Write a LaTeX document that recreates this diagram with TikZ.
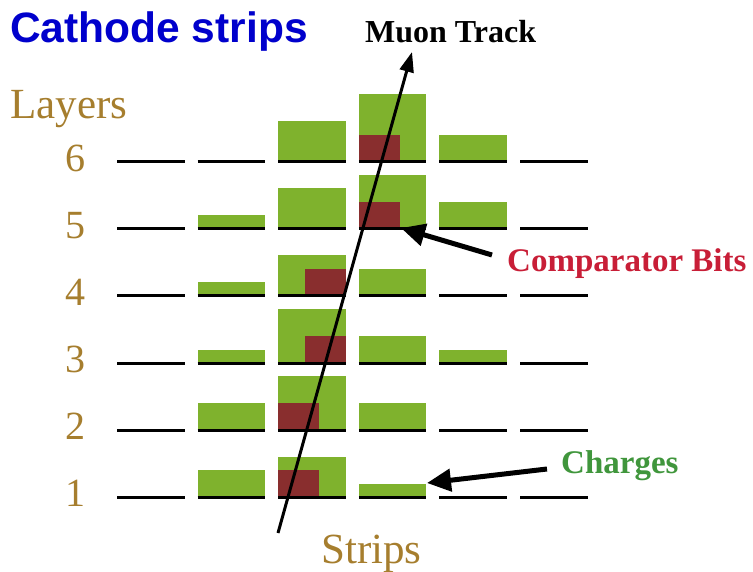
\documentclass[tikz,border=0pt]{standalone}
\usepackage{fontspec}
\setmainfont{Liberation Serif}
\setsansfont{Liberation Sans}
\usetikzlibrary{arrows.meta}

\definecolor{titleblue}{RGB}{0,0,204}
\definecolor{labelbrown}{RGB}{166,126,46}
\definecolor{chargegreen}{RGB}{127,178,45}
\definecolor{bitred}{RGB}{137,46,46}
\definecolor{cmpred}{RGB}{200,30,55}
\definecolor{chgtext}{RGB}{64,150,60}

\begin{document}
\begin{tikzpicture}[x=1pt,y=-1pt,
  charge/.style={fill=chargegreen},
  bit/.style={fill=bitred},
  stripline/.style={line width=3pt,black},
  brownlabel/.style={text=labelbrown,inner sep=0pt,font=\fontsize{43}{48}\selectfont},
  layernum/.style={text=labelbrown,inner sep=0pt,font=\fontsize{40}{46}\selectfont},
  callout/.style={inner sep=0pt,font=\bfseries\fontsize{33}{38}\selectfont},
  pointer/.style={line width=5pt,-{Triangle[length=24pt,width=22pt]}},
]
\useasboundingbox (0,0) rectangle (753,572);

% titles and axis labels
\node[anchor=base west,inner sep=0pt,text=titleblue,
      font=\sffamily\bfseries\fontsize{42.5}{48}\selectfont] (title) at (10,43) {Cathode strips};
\node[anchor=base west,inner sep=0pt,font=\bfseries\fontsize{32}{38}\selectfont] (muon) at (365,43) {Muon Track};
\node[brownlabel,anchor=base west] (layers) at (10,119) {Layers};
\node[brownlabel,anchor=base west] (strips) at (321,563) {Strips};

% collected charge on each strip (layer/column/height in units)
\foreach \ly/\col/\h in {6/3/3, 6/4/5, 6/5/2,
                         5/2/1, 5/3/3, 5/4/4, 5/5/2,
                         4/2/1, 4/3/3, 4/4/2,
                         3/2/1, 3/3/4, 3/4/2, 3/5/1,
                         2/2/2, 2/3/4, 2/4/2,
                         1/2/2, 1/3/3, 1/4/1}{
  \pgfmathsetmacro\xl{117+80.6*(\col-1)}
  \pgfmathsetmacro\yb{497-67*(\ly-1)}
  \fill[charge] (\xl,\yb) rectangle ++(67.5,-13.5*\h);
}

% comparator bits (layer/column/offset within strip)
\foreach \ly/\col/\off in {6/4/0, 5/4/0, 4/3/27, 3/3/27, 2/3/0, 1/3/0}{
  \pgfmathsetmacro\xl{117+80.6*(\col-1)+\off}
  \pgfmathsetmacro\yb{497-67*(\ly-1)}
  \fill[bit] (\xl,\yb) rectangle ++(41,-27);
}

% strip baselines and layer numbers
\foreach \ly in {1,...,6}{
  \pgfmathsetmacro\yb{497-67*(\ly-1)}
  \node[layernum,anchor=base] (n\ly) at (75,\yb+9.5) {\ly};
  \foreach \col in {1,...,6}{
    \pgfmathsetmacro\xl{117+80.6*(\col-1)}
    \draw[stripline] (\xl,\yb) -- ++(67.5,0);
  }
}

% muon track
\coordinate (trackin) at (278,533);
\coordinate (trackout) at (412,52);
\draw[line width=3pt,-{Triangle[length=20pt,width=14pt]}] (trackin) -- (trackout);

% callouts
\node[callout,text=cmpred,anchor=base west] (cmp) at (507,272) {Comparator Bits};
\coordinate (cmptail) at (492,255);
\coordinate (cmptip) at (401,228);
\draw[pointer] (cmptail) -- (cmptip);

\node[callout,text=chgtext,anchor=base west] (chg) at (561,473) {Charges};
\coordinate (chgtail) at (547,469);
\coordinate (chgtip) at (427,483);
\draw[pointer] (chgtail) -- (chgtip);
\end{tikzpicture}
\end{document}
